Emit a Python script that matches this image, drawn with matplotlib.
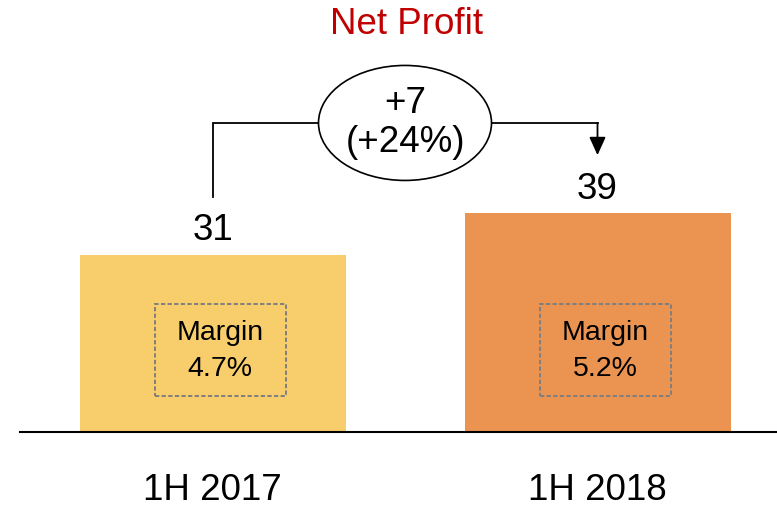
import matplotlib
matplotlib.use("Agg")
import matplotlib.pyplot as plt
from matplotlib.patches import Ellipse, Rectangle

plt.rcParams['font.family'] = ['Liberation Sans', 'DejaVu Sans']

# ---- data ----
categories = ["1H 2017", "1H 2018"]
net_profit = [31.4, 38.8]
margins = ["4.7%", "5.2%"]
bar_colors = ["#F8CD6C", "#EB9452"]
title = "Net Profit"

delta = net_profit[1] - net_profit[0]
pct = delta / net_profit[0] * 100

# ---- figure / axes ----
W, H = 777, 507
fig = plt.figure(figsize=(W / 100, H / 100), dpi=100)
ax = fig.add_axes([0, 0, 1, 1])
px_per_cat = 385.0
x0_px = 212.5
ax.set_xlim(-x0_px / px_per_cat, (W - x0_px) / px_per_cat)
px_per_unit = 5.65
base_px = 75.0
ax.set_ylim(-base_px / px_per_unit, (H - base_px) / px_per_unit)
ax.axis("off")

xs = list(range(len(categories)))
ax.bar(xs, net_profit, width=266 / px_per_cat, color=bar_colors, zorder=2)

# baseline
ax.axhline(0, xmin=20 / W, xmax=1, color="black", lw=1.5, zorder=3)

# value labels
for x, v in zip(xs, net_profit):
    ax.annotate(f"{v:.0f}", xy=(x, v), xytext=(0, 17), textcoords="offset points",
                ha="center", va="center", fontsize=26.5, color="black")

# category labels
for x, c in zip(xs, categories):
    ax.text(x, -10.3, c, ha="center", va="center", fontsize=26.5, color="black")

# margin boxes
bw, bh = 131 / px_per_cat, 92 / px_per_unit
for x, m in zip(xs, margins):
    cx = x + 0.02
    cy = 14.5
    rect = Rectangle((cx - bw / 2, cy - bh / 2), bw, bh, fill=False,
                     edgecolor="#7F7F7F", lw=1.4, linestyle=(0, (2.2, 1.2)), zorder=4)
    ax.add_patch(rect)
    ax.text(cx, cy + 3.0, "Margin", ha="center", va="center", fontsize=20.5, zorder=5)
    ax.text(cx, cy - 3.4, m, ha="center", va="center", fontsize=20.5, zorder=5)

# connector + ellipse
level = max(net_profit) + 15.9
ell_w, ell_h = 173 / px_per_cat, 115 / px_per_unit
ex = (xs[0] + xs[1]) / 2
ax.plot([xs[0], xs[0], ex - ell_w / 2], [net_profit[0] + 10.2, level, level],
        color="black", lw=1.3, solid_joinstyle="miter", zorder=3)
ax.plot([ex + ell_w / 2, xs[1]], [level, level], color="black", lw=1.3, zorder=3)
ax.annotate("", xy=(xs[1], net_profit[1] + 10.2), xytext=(xs[1], level),
            arrowprops=dict(arrowstyle="-|>,head_length=1.1,head_width=0.5",
                            color="black", lw=1.3, shrinkA=0, shrinkB=0,
                            mutation_scale=10), zorder=3)
ax.add_patch(Ellipse((ex, level), ell_w, ell_h, facecolor="white",
                     edgecolor="black", lw=1.2, zorder=4))
ax.text(ex, level + 3.4, f"+{delta:.0f}", ha="center", va="center", fontsize=26.5, zorder=5)
ax.text(ex, level - 3.4, f"(+{pct:.0f}%)", ha="center", va="center", fontsize=26.5, zorder=5)

# title
fig.text(406.5 / W, 1 - 24 / H, title, ha="center", va="center",
         fontsize=26.5, color="#C00000")

fig.savefig("out.png", dpi=100)
